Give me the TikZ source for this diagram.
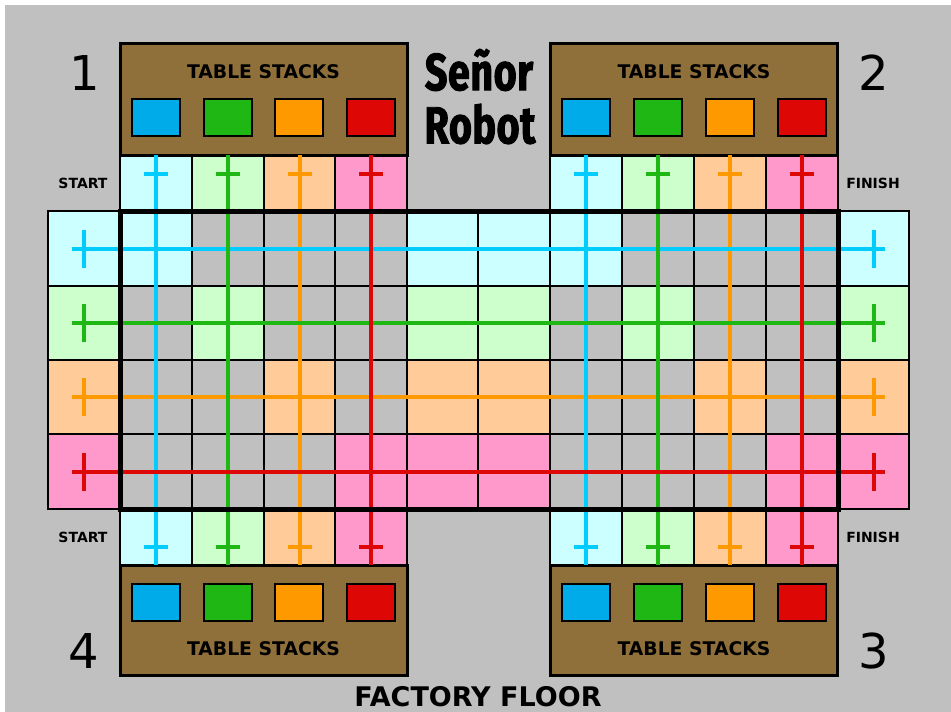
\documentclass[tikz,border=0pt]{standalone}
\usepackage{fontspec}
\setmainfont{DejaVu Sans}
\newfontfamily\titlefont[FakeStretch=0.76,FakeBold=1.8,LetterSpace=1]{Fira Sans}
\definecolor{bggray}{HTML}{C0C0C0}
\definecolor{brownbox}{HTML}{8F6F3A}
\definecolor{tcyan}{HTML}{CCFFFF}
\definecolor{tgreen}{HTML}{CCFFCC}
\definecolor{torange}{HTML}{FFCC99}
\definecolor{tpink}{HTML}{FF99CC}
\definecolor{lcyan}{HTML}{00CCFF}
\definecolor{lgreen}{HTML}{1FB714}
\definecolor{lorange}{HTML}{FF9900}
\definecolor{lred}{HTML}{DD0806}
\definecolor{scyan}{HTML}{00ABEA}
\tikzset{
  x=1pt,y=-1pt,
  cell/.style={draw=black,line width=1.3pt,inner sep=0pt,outer sep=0pt},
  tablebox/.style={draw=black,line width=3pt,fill=brownbox,inner sep=0pt,outer sep=0pt,minimum width=287pt},
  stackbox/.style={draw=black,line width=1.6pt,inner sep=0pt,outer sep=0pt,minimum width=48pt,minimum height=37pt},
  heavyframe/.style={draw=black,line width=5pt},
  route/.style={line width=4pt},
  boxlabel/.style={font=\bfseries\fontsize{18.8}{22}\selectfont,inner sep=0pt},
  sidelabel/.style={font=\bfseries\fontsize{14}{16}\selectfont,inner sep=0pt},
  cornernum/.style={font=\fontsize{48}{56}\selectfont,inner sep=0pt},
  titletext/.style={font=\titlefont\bfseries\fontsize{52}{56}\selectfont,inner sep=0pt},
  floorlabel/.style={font=\bfseries\fontsize{27}{32}\selectfont,inner sep=0pt},
}
\newcommand{\gridcell}[6]{%
  \pgfmathsetmacro{\gw}{#3-#2}\pgfmathsetmacro{\gh}{#5-#4}%
  \node[cell,fill=#6,minimum width=\gw pt,minimum height=\gh pt] (#1) at ({(#2+#3)/2},{(#4+#5)/2}) {};}
\begin{document}
\begin{tikzpicture}
\useasboundingbox (0,0) rectangle (951,712);
\fill[white] (0,0) rectangle (951,712);
\fill[bggray] (5,5) rectangle (951,712);

% factory grid
\def\xs{{48,120,192,264,335,407,478,550,622,694,766,838,909}}
\def\ys{{211,286,360,434,509}}
\foreach \r/\col in {0/tcyan,1/tgreen,2/torange,3/tpink}{
  \foreach \c in {0,...,11}{
    \pgfmathsetmacro{\xa}{\xs[\c]}
    \pgfmathsetmacro{\xb}{\xs[\c+1]}
    \pgfmathsetmacro{\ya}{\ys[\r]}
    \pgfmathsetmacro{\yb}{\ys[\r+1]}
    \pgfmathtruncatemacro{\hit}{(\c==0)||(\c==11)||(\c==5)||(\c==6)||(\c==\r+1)||(\c==\r+7)}
    \ifnum\hit=1 \def\cf{\col}\else\def\cf{bggray}\fi
    \gridcell{g\r-\c}{\xa}{\xb}{\ya}{\yb}{\cf}
  }
}

% start / finish tiles above and below the grid
\foreach \n/\a/\b/\col in {1/120/192/tcyan,2/192/264/tgreen,3/264/335/torange,4/335/407/tpink,
                           5/550/622/tcyan,6/622/694/tgreen,7/694/766/torange,8/766/838/tpink}{
  \gridcell{t\n}{\a}{\b}{155}{211}{\col}
  \gridcell{b\n}{\a}{\b}{509}{565}{\col}
}

% table stack boxes
\node[tablebox,minimum height=112pt] (box1) at (263.5,99) {};
\node[tablebox,minimum height=112pt] (box2) at (694,99) {};
\node[tablebox,minimum height=110pt] (box4) at (263.5,620) {};
\node[tablebox,minimum height=110pt] (box3) at (694,620) {};
\foreach \n/\x in {1/156,2/228,3/299,4/371,5/586,6/658,7/730,8/802}{
  \pgfmathtruncatemacro{\k}{mod(\n-1,4)}
  \ifcase\k \def\sc{scyan}\or\def\sc{lgreen}\or\def\sc{lorange}\or\def\sc{lred}\fi
  \node[stackbox,fill=\sc] (st\n) at (\x,117.5) {};
  \node[stackbox,fill=\sc] (sb\n) at (\x,602.5) {};
}
\node[boxlabel] (lab1) at (263.5,72) {TABLE STACKS};
\node[boxlabel] (lab2) at (694,72) {TABLE STACKS};
\node[boxlabel] (lab4) at (263.5,649) {TABLE STACKS};
\node[boxlabel] (lab3) at (694,649) {TABLE STACKS};

% routes, lowest colour first
\foreach \col/\row/\va/\vb in {lorange/2/3/7,lcyan/0/1/5,lgreen/1/2/6,lred/3/4/8}{
  \coordinate (ha) at ([xshift=-12pt]g\row-0.center);
  \coordinate (hb) at ([xshift=11pt]g\row-11.center);
  \draw[route,draw=\col] (ha) -- (hb);
  \draw[route,draw=\col] ([yshift=19pt]g\row-0.center) -- ([yshift=-19pt]g\row-0.center);
  \draw[route,draw=\col] ([yshift=19pt]g\row-11.center) -- ([yshift=-19pt]g\row-11.center);
  \foreach \v in {\va,\vb}{
    \draw[route,draw=\col] (t\v.north) -- (b\v.south);
    \draw[route,draw=\col] ([xshift=-12pt,yshift=9.5pt]t\v.center) -- ([xshift=12pt,yshift=9.5pt]t\v.center);
    \draw[route,draw=\col] ([xshift=-12pt,yshift=-9.5pt]b\v.center) -- ([xshift=12pt,yshift=-9.5pt]b\v.center);
  }
}

% heavy frame over the routes
\draw[heavyframe] (g0-1.north west) rectangle (g3-10.south east);

% labels
\node[cornernum] (n1) at (85,73) {1};
\node[cornernum] (n2) at (874,73) {2};
\node[cornernum] (n3) at (874,651) {3};
\node[cornernum] (n4) at (84,651) {4};
\node[sidelabel] (s1) at (83,183) {START};
\node[sidelabel] (s2) at (873,183) {FINISH};
\node[sidelabel] (s3) at (83,537) {START};
\node[sidelabel] (s4) at (873,537) {FINISH};
\node[titletext] (title1) at (479,70) {Señor};
\node[titletext] (title2) at (480,124) {Robot};
\node[floorlabel] (floor) at (478,697) {FACTORY FLOOR};
\end{tikzpicture}
\end{document}
